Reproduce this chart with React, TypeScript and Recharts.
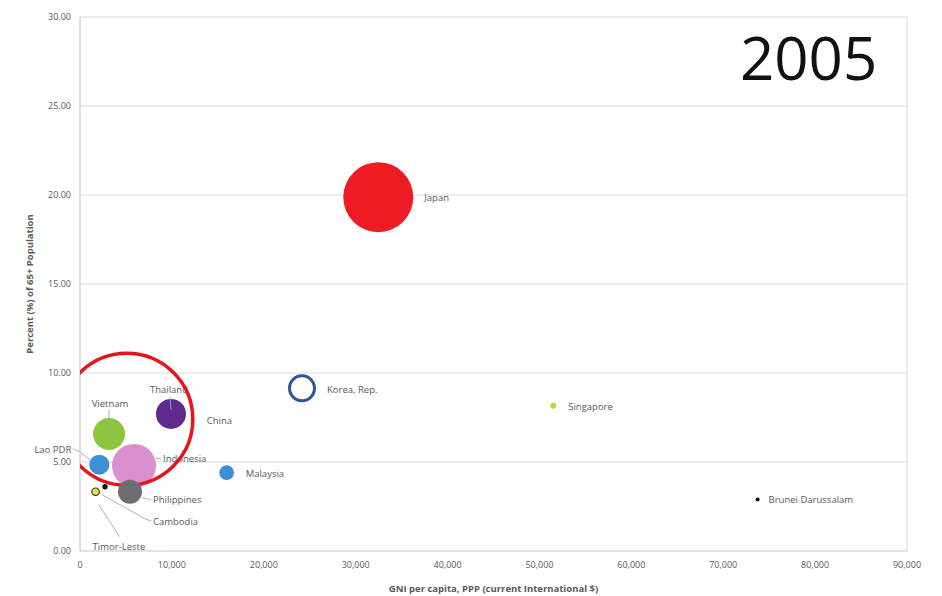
import React from 'react';
import { ScatterChart, Scatter, XAxis, YAxis, ZAxis, CartesianGrid, ReferenceLine } from 'recharts';

// values (2005)
const countries = ['Japan', 'Korea, Rep.', 'Singapore', 'Brunei Darussalam', 'Malaysia', 'Thailand', 'Vietnam', 'Lao PDR', 'Indonesia', 'China', 'Philippines', 'Cambodia', 'Timor-Leste'];
const gniPerCapita = [32460, 24160, 51500, 73740, 15960, 9900, 3160, 2100, 5880, 5090, 5440, 2720, 1700];
const pctAged65 = [19.88, 9.14, 8.16, 2.9, 4.4, 7.7, 6.57, 4.85, 4.78, 7.4, 3.33, 3.61, 3.33];
const bubbleSize = [1225, 156, 9, 4, 54, 225, 256, 100, 484, 4356, 144, 7, 14];

const xTicks = [0, 10000, 20000, 30000, 40000, 50000, 60000, 70000, 80000, 90000];
const yTicks = [0, 5, 10, 15, 20, 25, 30];

const data = countries.map((name, i) => ({
  name,
  x: gniPerCapita[i],
  y: pctAged65[i],
  z: bubbleSize[i]
}));

// China's big ring is cut at the axes, the rest are drawn unclipped
const before = data.slice(0, 9);
const china = data.filter(d => d.name === 'China');
const after = data.slice(10);

const FONT = '"Open Sans", "Liberation Sans", sans-serif';
const LABEL_COLOR = '#595959';
const LEADER = '#A6A6A6';

// look of each bubble and where its label sits relative to it
const looks = {
  'Japan': { fill: '#ED1C24', dx: 46, dy: 1 },
  'Korea, Rep.': { fill: 'none', stroke: '#2F5597', sw: 3, dx: 25, dy: 1 },
  'Singapore': { fill: '#C9D22C', dx: 15, dy: 1 },
  'Brunei Darussalam': { fill: '#111', dx: 11, dy: 0 },
  'Malaysia': { fill: '#3E8FD5', dx: 19, dy: 1 },
  'Thailand': { fill: '#5E2A8E', dx: -2, dy: -24, anchor: 'middle', leader: [[-1, -17], [0, -4]] },
  'Vietnam': { fill: '#8CC63F', dx: 1, dy: -30, anchor: 'middle', leader: [[0, -24], [0, 0]] },
  'Lao PDR': { fill: '#3E8FD5', dx: -28, dy: -15, anchor: 'end', leader: [[-26, -16], [-20, -13], [-8, -4]] },
  'Indonesia': { fill: '#D990CC', dx: 29, dy: -7, leader: [[21, -8], [27, -7]] },
  'China': { fill: 'none', stroke: '#E8141B', sw: 3.5, dx: 80, dy: 1 },
  'Philippines': { fill: '#6E6C70', dx: 23, dy: 8, leader: [[12, 6], [21, 8]] },
  'Cambodia': { fill: '#111', dx: 48, dy: 35, leader: [[-3, 8], [42, 33], [46, 34]] },
  'Timor-Leste': { fill: '#E6E33C', stroke: '#333', sw: 1.2, dx: -3, dy: 55, leader: [[3, 13], [24, 45]] }
};

const Bubble = (props) => {
  const { cx, cy, payload } = props;
  const r = props.width ? props.width / 2 : Math.sqrt(props.size / Math.PI);
  const look = looks[payload.name];
  return <g>
      <circle cx={cx} cy={cy} r={r} fill={look.fill} stroke={look.stroke || 'none'} strokeWidth={look.sw || 0} />
      {look.leader && <polyline points={look.leader.map(p => `${cx + p[0]},${cy + p[1]}`).join(' ')} fill="none" stroke={LEADER} strokeWidth={0.9} />}
      <text x={cx + look.dx} y={cy + look.dy} dy="0.35em" textAnchor={look.anchor || 'start'} fontSize={9.5} fontFamily={FONT} fill={LABEL_COLOR}>
        {payload.name}
      </text>
    </g>;
};

export default function App() {
  return <div style={{ position: 'absolute', left: 0, top: 0, width: 942, height: 596, background: '#fff' }}>
      <ScatterChart width={942} height={596} margin={{ top: 17, right: 35, bottom: 0, left: 0 }}>
        <CartesianGrid vertical={false} stroke="#D9D9D9" />
        <XAxis type="number" dataKey="x" domain={[0, 90000]} ticks={xTicks} height={45}
          tickFormatter={v => v.toLocaleString('en-US')} tickLine={false} tickSize={0} tickMargin={11}
          axisLine={{ stroke: '#D9D9D9' }} tick={{ fontSize: 9, fill: LABEL_COLOR, fontFamily: FONT }}
          label={{ value: 'GNI per capita, PPP (current International $)', position: 'insideBottom', offset: 4, fontSize: 9.5, fontWeight: 700, fill: LABEL_COLOR, fontFamily: FONT }} />
        <YAxis type="number" dataKey="y" domain={[0, 30]} ticks={yTicks} width={80}
          tickFormatter={v => v.toFixed(2)} tickLine={false} tickSize={0} tickMargin={9}
          axisLine={{ stroke: '#BFBFBF' }} tick={{ fontSize: 9, fill: LABEL_COLOR, fontFamily: FONT }}
          label={{ value: 'Percent (%) of 65+ Population', angle: -90, position: 'insideLeft', offset: 30, style: { textAnchor: 'middle' }, fontSize: 9.5, fontWeight: 700, fill: LABEL_COLOR, fontFamily: FONT }} />
        <XAxis xAxisId="clip" type="number" dataKey="x" domain={[0, 90000]} allowDataOverflow hide />
        <YAxis yAxisId="clip" type="number" dataKey="y" domain={[0, 30]} allowDataOverflow hide />
        <ZAxis type="number" dataKey="z" domain={[0, 5000]} range={[0, 5000 * Math.PI]} />
        <ZAxis zAxisId="clip" type="number" dataKey="z" domain={[0, 5000]} range={[0, 5000 * Math.PI]} />
        <ReferenceLine x={90000} stroke="#D9D9D9" />
        <Scatter data={before} shape={Bubble} isAnimationActive={false} />
        <Scatter data={china} xAxisId="clip" yAxisId="clip" zAxisId="clip" shape={Bubble} isAnimationActive={false} />
        <Scatter data={after} shape={Bubble} isAnimationActive={false} />
      </ScatterChart>
      <svg width={942} height={596} style={{ position: 'absolute', left: 0, top: 0, pointerEvents: 'none' }}>
        <text x={740} y={80} fontSize={60} fontFamily={FONT} fill="#111">2005</text>
      </svg>
    </div>;
}
